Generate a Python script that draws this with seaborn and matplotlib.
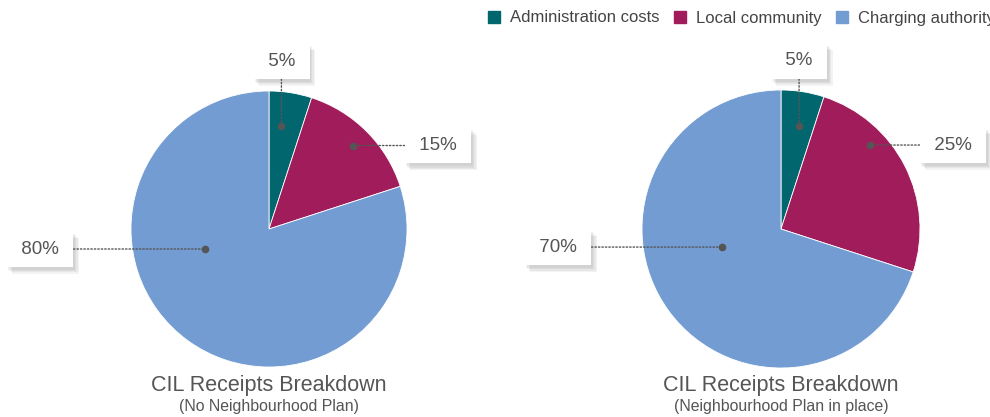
import matplotlib
matplotlib.use("Agg")
import matplotlib.pyplot as plt
import matplotlib.patheffects as pe
from matplotlib.lines import Line2D
import seaborn as sns

# Data
categories = ["Administration costs", "Local community", "Charging authority"]
no_plan_share = [5, 15, 80]
with_plan_share = [5, 25, 70]
chart_titles = ["CIL Receipts Breakdown", "CIL Receipts Breakdown"]
chart_subtitles = ["(No Neighbourhood Plan)", "(Neighbourhood Plan in place)"]

palette = ["#02666f", "#a01c5b", "#739cd3"]
text_grey = "#555555"

sns.set_theme(style="white")
plt.rcParams['font.family'] = ['Liberation Sans', 'DejaVu Sans']

W, H = 990, 417
fig = plt.figure(figsize=(W / 100, H / 100), dpi=100)

# label box / connector dot placement, in pie-radius units
left_labels = [(0.09, 1.217), (1.225, 0.605), (-1.659, -0.145)]
left_dots = [(0.09, 0.746), (0.609, 0.605), (-0.464, -0.145)]
right_labels = [(0.13, 1.209), (1.237, 0.604), (-1.604, -0.13)]
right_dots = [(0.13, 0.741), (0.640, 0.604), (-0.424, -0.13)]

# soft drop shadow under the label boxes
shadow = [pe.withSimplePatchShadow(offset=(o, -o - 1), shadow_rgbFace="#555555", alpha=0.07)
          for o in (4, 3, 2, 1)]


def draw_pie(cx, cy, r, values, title, subtitle, label_pos, dot_pos):
    ax = fig.add_axes([(cx - r) / W, (H - cy - r) / H, 2 * r / W, 2 * r / H])
    ax.pie(values, colors=palette, startangle=90, counterclock=False, radius=1,
           wedgeprops=dict(linewidth=0.6, edgecolor="white"))
    ax.set_xlim(-1, 1)
    ax.set_ylim(-1, 1)
    ax.set_aspect("equal")
    ax.axis("off")
    for v, (tx, ty), (dx, dy) in zip(values, label_pos, dot_pos):
        ax.plot(dx, dy, "o", color=text_grey, ms=4.5, zorder=5)
        t = ax.annotate(f" {v}% ", xy=(dx, dy), xytext=(tx, ty),
                        ha="center", va="center", fontsize=13.5, color=text_grey,
                        bbox=dict(boxstyle="square,pad=0.5", fc="white", ec="none"),
                        arrowprops=dict(arrowstyle="-", linestyle=(0, (1, 1.5)),
                                        color=text_grey, lw=1, shrinkA=0, shrinkB=0),
                        annotation_clip=False, zorder=6)
        t.get_bbox_patch().set_path_effects(shadow + [pe.Normal()])
    fig.text(cx / W, (H - 386) / H, title, ha="center", va="center",
             fontsize=15.5, color=text_grey)
    fig.text(cx / W, (H - 406) / H, subtitle, ha="center", va="center",
             fontsize=11.4, color=text_grey)


draw_pie(269, 229, 138, no_plan_share, chart_titles[0], chart_subtitles[0],
         left_labels, left_dots)
draw_pie(781, 229, 139, with_plan_share, chart_titles[1], chart_subtitles[1],
         right_labels, right_dots)

handles = [Line2D([], [], marker="s", linestyle="none", color=c, markersize=8)
           for c in palette]
leg = fig.legend(handles, categories, loc="center left", bbox_to_anchor=(488 / W, 1 - 18 / H),
                 ncol=3, frameon=False, fontsize=12, handlelength=0.7,
                 handletextpad=0.6, columnspacing=0.9, borderpad=0, borderaxespad=0)
for txt in leg.get_texts():
    txt.set_color("#444444")

fig.savefig("out.png", dpi=100)
